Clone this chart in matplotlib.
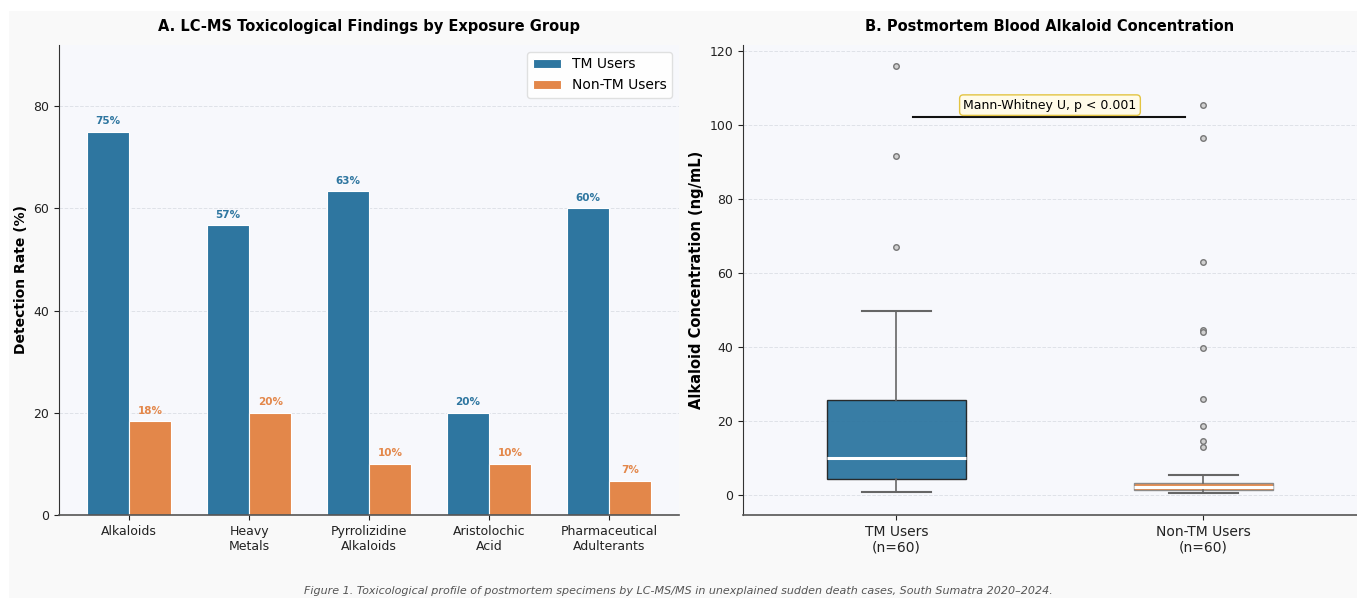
import numpy as np
import matplotlib

matplotlib.use("Agg")
import matplotlib.pyplot as plt
from matplotlib.patches import Rectangle

# Panel A data
categories = ["Alkaloids", "Heavy\nMetals", "Pyrrolizidine\nAlkaloids",
              "Aristolochic\nAcid", "Pharmaceutical\nAdulterants"]
tm_rates = [75.0, 56.7, 63.3, 20.0, 60.0]
non_tm_rates = [18.3, 20.0, 10.0, 10.0, 6.7]

# Panel B data (box summary)
groups = ["TM Users\n(n=60)", "Non-TM Users\n(n=60)"]
tm_box = {"whislo": 0.6, "q1": 4.1, "med": 9.8, "q3": 25.5, "whishi": 49.7}
tm_outliers = [116.0, 91.6, 66.9]
non_tm_box = {"whislo": 0.5, "q1": 1.2, "med": 2.1, "q3": 3.2, "whishi": 5.2}
non_tm_outliers = [105.3, 96.5, 62.8, 44.5, 44.0, 39.5, 25.8, 18.4, 14.6, 12.8]

C_TM = "#2e76a0"
C_NON = "#e3874a"
FIG_BG = "#f9f9f9"
AX_BG = "#f7f8fc"

plt.rcParams.update({"font.family": "DejaVu Sans"})

fig = plt.figure(figsize=(13.57, 5.98), dpi=100, facecolor="white")
fig.patches.append(Rectangle((9 / 1357, 0), 1, 1 - 11 / 598,
                             transform=fig.transFigure, facecolor=FIG_BG,
                             edgecolor="none", zorder=-10))

ax1 = fig.add_axes([0.0435, 0.139, 0.457, 0.786])
ax2 = fig.add_axes([0.5475, 0.139, 0.4525, 0.786])

for ax in (ax1, ax2):
    ax.set_facecolor(AX_BG)
    ax.spines["top"].set_visible(False)
    ax.spines["right"].set_visible(False)
    ax.spines["left"].set_color("#333333")
    ax.spines["bottom"].set_color("#555555")
    ax.spines["bottom"].set_linewidth(1.2)
    ax.grid(axis="y", ls="--", lw=0.7, color="#dcdfe6", alpha=0.9)
    ax.set_axisbelow(True)
    ax.tick_params(labelsize=9, colors="#222222")

# --- Panel A ---
x = np.arange(len(categories))
w = 0.35
b1 = ax1.bar(x - w / 2, tm_rates, w, color=C_TM, edgecolor="white",
             linewidth=0.8, label="TM Users")
b2 = ax1.bar(x + w / 2, non_tm_rates, w, color=C_NON, edgecolor="white",
             linewidth=0.8, label="Non-TM Users")
for bars, vals, c in ((b1, tm_rates, C_TM), (b2, non_tm_rates, C_NON)):
    for r, v in zip(bars, vals):
        ax1.text(r.get_x() + r.get_width() / 2, v + 1.1, f"{v:.0f}%",
                 ha="center", va="bottom", fontsize=7.5, fontweight="bold",
                 color=c)
ax1.set_xticks(x)
ax1.set_xticklabels(categories, fontsize=9)
ax1.set_ylim(0, 92)
ax1.set_yticks([0, 20, 40, 60, 80])
ax1.set_ylabel("Detection Rate (%)", fontsize=10, fontweight="bold")
ax1.set_title("A. LC-MS Toxicological Findings by Exposure Group",
              fontsize=10.5, fontweight="bold", pad=10)
ax1.legend(loc="upper right", fontsize=10, framealpha=0.9,
           edgecolor="#dddddd", fancybox=True)

# --- Panel B ---
stats = []
for lbl, s, fl in ((groups[0], tm_box, tm_outliers),
                   (groups[1], non_tm_box, non_tm_outliers)):
    d = dict(s)
    d["label"] = lbl
    d["fliers"] = fl
    stats.append(d)

bp = ax2.bxp(stats, positions=[1, 2], widths=0.45, patch_artist=True,
             showfliers=True,
             boxprops=dict(edgecolor="#222222", linewidth=1.0),
             medianprops=dict(color="white", linewidth=2.2),
             whiskerprops=dict(color="#666666", linewidth=1.2),
             capprops=dict(color="#666666", linewidth=1.5),
             flierprops=dict(marker="o", markersize=4, markerfacecolor="#d0d0d0",
                             markeredgecolor="#777777", markeredgewidth=1.0))
for patch, c in zip(bp["boxes"], (C_TM, C_NON)):
    patch.set_facecolor(c)
    patch.set_alpha(0.95)
bp["boxes"][1].set_edgecolor("#888888")

ax2.set_xlim(0.5, 2.5)
ax2.set_ylim(-5.5, 121.6)
ax2.set_yticks([0, 20, 40, 60, 80, 100, 120])
ax2.tick_params(axis="x", labelsize=10)
ax2.set_ylabel("Alkaloid Concentration (ng/mL)", fontsize=10.5, fontweight="bold")
ax2.set_title("B. Postmortem Blood Alkaloid Concentration",
              fontsize=10.5, fontweight="bold", pad=10)

ax2.plot([1.055, 1.94], [102, 102], color="#111111", lw=1.5)
ax2.text(1.5, 105.3, "Mann-Whitney U, p < 0.001", ha="center", va="center",
         fontsize=9,
         bbox=dict(boxstyle="round,pad=0.3", facecolor="#fffbe8",
                   edgecolor="#e3c442", linewidth=1.0))

fig.text(0.5, 0.004, "Figure 1. Toxicological profile of postmortem specimens by "
         "LC-MS/MS in unexplained sudden death cases, South Sumatra 2020\u20132024.",
         ha="center", va="bottom", fontsize=8, style="italic", color="#555555")

fig.savefig("out.png", dpi=100, facecolor=fig.get_facecolor())
